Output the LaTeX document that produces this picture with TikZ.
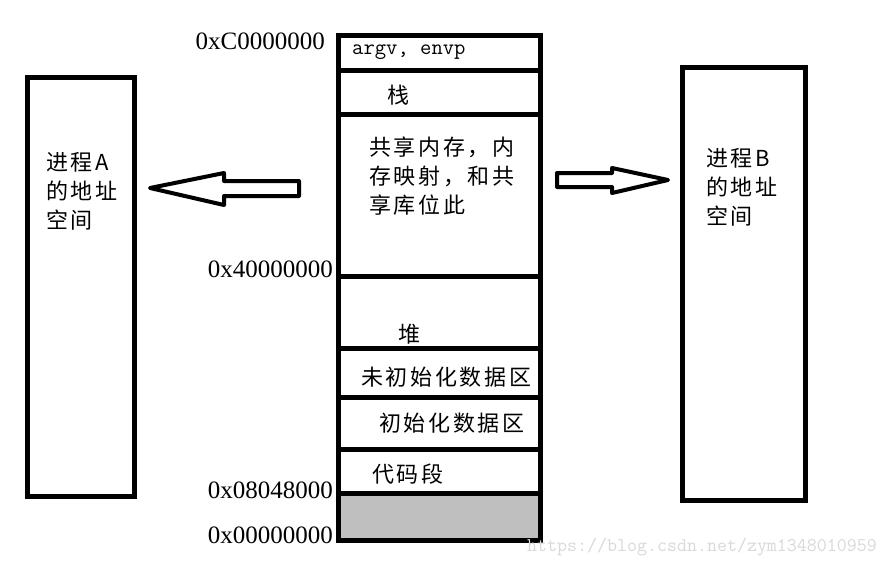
\documentclass[tikz,border=0pt]{standalone}
\usepackage{fontspec}
\setmainfont{Liberation Serif}
\newfontfamily\cjk[LetterSpace=12]{Noto Sans CJK SC}
\newfontfamily\hexfont{Liberation Serif}
\newfontfamily\monofont{Latin Modern Mono}
\begin{document}
\begin{tikzpicture}[x=1pt,y=-1pt,
  thick line/.style={line width=5pt},
  arrowshape/.style={line width=4pt,line join=round,fill=white},
  hexlabel/.style={anchor=east,inner sep=0pt,font=\hexfont\fontsize{25}{25}\selectfont},
  cjklabel/.style={anchor=west,inner sep=0pt,font=\cjk\fontsize{22}{29}\selectfont},
  cjkblock/.style={anchor=north west,inner sep=0pt,align=left,font=\cjk\fontsize{22}{29}\selectfont},
  mark label/.style={anchor=west,inner sep=0pt,font=\monofont\fontsize{22}{22}\selectfont},
  watermark/.style={anchor=west,inner sep=0pt,text=black!15,font=\monofont\fontsize{19.4}{19.4}\selectfont}]
\useasboundingbox (0,0) rectangle (890,565);
\fill[white] (0,0) rectangle (890,565);
% memory column
\fill[black!25] (338,493) rectangle (540,540);
\draw[thick line] (338,35) rectangle (540,540);
\foreach \yy in {70,114,276,348,397,449,493}
  \draw[thick line] (338,\yy) -- (540,\yy);
% process boxes
\draw[thick line] (27.5,77.5) rectangle (134.5,496);
\draw[thick line] (682,67) rectangle (805,500);
% arrows
\draw[arrowshape] (150,188) -- (224,173) -- (224,181) -- (299,181) -- (299,196) -- (224,196) -- (224,205) -- cycle;
\draw[arrowshape] (668,180) -- (612,168) -- (612,173) -- (557,173) -- (557,187) -- (612,187) -- (612,193) -- cycle;
% address labels
\node[hexlabel] (a1) at (325,41) {0xC0000000};
\node[hexlabel] (a2) at (333,269) {0x40000000};
\node[hexlabel] (a3) at (333,490) {0x08048000};
\node[hexlabel] (a4) at (333,535) {0x00000000};
% segment labels
\node[mark label] (argv) at (352,52) {argv,\ envp};
\node[cjklabel] (stack) at (387,95) {栈};
\node[cjkblock] (shm) at (369,137) {共享内存，内\\存映射，和共\\享库位此};
\node[cjklabel] (heap) at (398,334) {堆};
\node[cjklabel] (bss) at (361,377) {未初始化数据区};
\node[cjklabel] (data) at (379,423) {初始化数据区};
\node[cjklabel] (text) at (372,474) {代码段};
% process labels
\node[cjkblock] (pa) at (46,152) {进程A\\的地址\\空间};
\node[cjkblock] (pb) at (706,148) {进程B\\的地址\\空间};
\node[watermark] (wm) at (527,547) {https://blog.csdn.net/zym1348010959};
\end{tikzpicture}
\end{document}
